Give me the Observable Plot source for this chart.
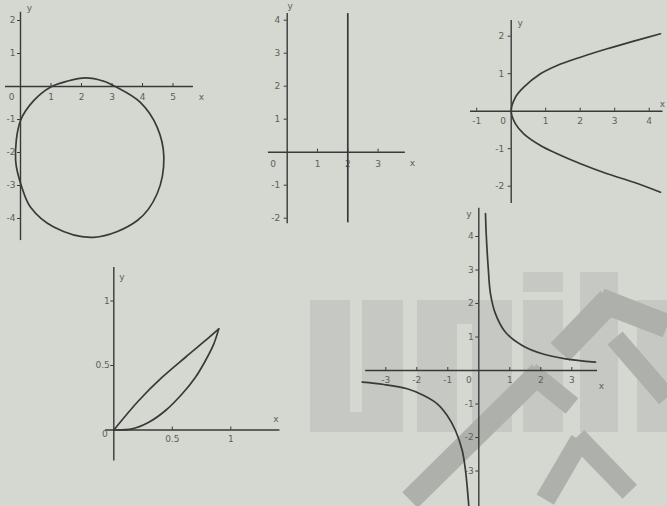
<!DOCTYPE html>
<html><head><meta charset="utf-8">
<script src="https://cdn.jsdelivr.net/npm/d3@7"></script>
<script src="https://cdn.jsdelivr.net/npm/@observablehq/plot@0.6"></script>
<style>
html,body{margin:0;padding:0;background:#d5d7d1;}
#stage{position:relative;width:667px;height:506px;overflow:hidden;background:#d5d7d1;}
#stage svg{position:absolute;overflow:visible;background:transparent;}
.wm{position:absolute;background:#c6c9c3;}
.wd{position:absolute;background:#adb0ab;transform-origin:0 50%;}
</style></head><body><div id="stage"></div>
<script>
// ---------- data ----------
// Panel 1: circle
const circleTicksX = [1, 2, 3, 4, 5];
const circleTicksY = [2, 1, -1, -2, -3, -4];
const circlePoints = [[2.13,0.26],[2.73,0.16],[3.11,0],[3.93,-0.48],[4.48,-1.23],[4.70,-2.14],[4.48,-3.25],[3.83,-4.06],[2.40,-4.57],[1.09,-4.26],[0.33,-3.66],[0.06,-3.10],[-0.16,-2.24],[0,-1.03],[0.44,-0.42],[0.98,-0.02],[1.53,0.16]];
// Panel 2: vertical line x = 2
const vlineTicksX = [1, 2, 3];
const vlineTicksY = [4, 3, 2, 1, -1, -2];
const vlineX = [2];
const vlineYRange = [-2.14, 4.2];
// Panel 3: sideways parabola
const parabTicksX = [-1, 1, 2, 3, 4];
const parabTicksY = [2, 1, -1, -2];
const parabPoints = [[4.328,-2.16],[3.554,-1.893],[2.783,-1.669],[2.009,-1.403],[1.333,-1.136],[0.849,-0.915],[0.365,-0.603],[0.125,-0.336],[0,0],[0.125,0.373],[0.365,0.64],[0.849,0.997],[1.333,1.219],[2.009,1.44],[2.783,1.664],[3.554,1.867],[4.328,2.064]];
// Panel 4: two curves between 0 and the meeting point
const lensTicksX = [0.5, 1];
const lensTicksY = [1, 0.5];
const lensUpper = [[0,0],[0.214,0.229],[0.414,0.409],[0.613,0.564],[0.784,0.694],[0.897,0.784]];
const lensLower = [[0,0],[0.157,0.009],[0.299,0.06],[0.442,0.151],[0.585,0.281],[0.698,0.409],[0.784,0.539],[0.855,0.668],[0.897,0.784]];
// Panel 5: hyperbola
const hypTicksX = [-3, -2, -1, 1, 2, 3];
const hypTicksY = [4, 3, 2, 1, -1, -2, -3];
const hypRight = [[0.216,4.68],[0.239,4.08],[0.303,3.08],[0.377,2.29],[0.539,1.69],[0.861,1.14],[1.4,0.746],[2.045,0.499],[2.797,0.349],[3.765,0.248]];
const hypLeft = [[-3.761,-0.349],[-3.065,-0.418],[-2.31,-0.546],[-1.774,-0.746],[-1.342,-0.994],[-1.019,-1.343],[-0.752,-1.791],[-0.535,-2.388],[-0.429,-2.985],[-0.355,-3.681],[-0.323,-4.06],[-0.31,-4.5]];

// ---------- drawing ----------
const stage = document.getElementById("stage");
const ink = "#383a38", textInk = "#5e605d", font = "DejaVu Sans";

// faint background watermark (not chart data)
[[310,300,40,132],[362,300,41,132],[310,412,93,20],[417,300,40,132],[417,300,95,24],[472,300,40,132],[523,272,40,20],[523,300,40,132],[580,272,38,160],[637,300,30,132]]
  .forEach(([l,t,w,h]) => { const d = document.createElement("div"); d.className = "wm";
    Object.assign(d.style, {left:l+"px", top:t+"px", width:w+"px", height:h+"px"}); stage.appendChild(d); });
[[560,352,610,300,26],[600,300,667,326,24],[615,338,667,398,20],[410,500,540,372,22],[530,372,572,406,20],[577,437,630,492,20],[580,440,545,500,20]]
  .forEach(([x1,y1,x2,y2,th]) => { const d = document.createElement("div"); d.className = "wd";
    const len = Math.hypot(x2-x1, y2-y1), ang = Math.atan2(y2-y1, x2-x1) * 180 / Math.PI;
    Object.assign(d.style, {left:x1+"px", top:(y1-th/2)+"px", width:len+"px", height:th+"px", transform:`rotate(${ang}deg)`}); stage.appendChild(d); });

function panel(c, curves) {
  const t = {fill: textInk, fontSize: 9, fontFamily: font};
  const marks = [
    Plot.ruleY([0], {x1: c.xSpan[0], x2: c.xSpan[1], stroke: ink, strokeWidth: 1.4}),
    Plot.ruleX([0], {y1: c.ySpan[0], y2: c.ySpan[1], stroke: ink, strokeWidth: 1.4}),
    Plot.ruleX(c.xTicks, {x: d => d, y1: 0, y2: 3 / c.uy, stroke: ink, strokeWidth: 1}),
    Plot.ruleY(c.yTicks, {y: d => d, x1: -3 / c.ux, x2: 0, stroke: ink, strokeWidth: 1}),
    Plot.text(c.xTicks, {x: d => d, y: 0, dy: c.xDy, text: d => String(d), ...t}),
    Plot.text(["0"], {x: 0, y: 0, dx: c.zeroDx, dy: c.xDy + (c.zeroDy || 0), text: d => d, ...t}),
    Plot.text(c.yTicks, {x: 0, y: d => d, dx: c.yDx, textAnchor: "end", text: d => String(d), ...t}),
    Plot.text(["y"], {x: 0, y: c.ySpan[1], dx: c.yLab[0], dy: c.yLab[1], text: d => d, ...t}),
    Plot.text(["x"], {x: c.xSpan[1], y: 0, dx: c.xLab[0], dy: c.xLab[1], textAnchor: c.xLabAnchor || "middle", text: d => d, ...t}),
    ...curves
  ];
  const svg = Plot.plot({
    width: c.width, height: c.height, margin: 0,
    x: {domain: [(c.left - c.ox) / c.ux, (c.left + c.width - c.ox) / c.ux], axis: null},
    y: {domain: [(c.oy - (c.top + c.height)) / c.uy, (c.oy - c.top) / c.uy], axis: null},
    style: {background: "transparent", overflow: "visible"},
    marks
  });
  svg.style.position = "absolute";
  svg.style.left = c.left + "px";
  svg.style.top = c.top + "px";
  stage.appendChild(svg);
}
const curve = (pts, kind) => Plot.line(pts, {x: d => d[0], y: d => d[1], curve: kind || "catmull-rom",
  stroke: ink, strokeWidth: 1.7, strokeLinecap: "round", strokeLinejoin: "round"});

panel({left: 0, top: 0, width: 215, height: 250, ox: 20, oy: 86, ux: 30.5, uy: 33,
  xSpan: [-0.49, 5.67], ySpan: [-4.67, 2.25], xTicks: circleTicksX, yTicks: circleTicksY,
  xDy: 11, yDx: -5, zeroDx: -9, yLab: [9, -4], xLab: [8, 11]},
  [curve(circlePoints, "catmull-rom-closed")]);

panel({left: 255, top: 0, width: 165, height: 235, ox: 286.7, oy: 151.7, ux: 30.3, uy: 33,
  xSpan: [-0.62, 3.9], ySpan: [-2.17, 4.2], xTicks: vlineTicksX, yTicks: vlineTicksY,
  xDy: 12, yDx: -7, zeroDx: -14, yLab: [3, -7], xLab: [7, 11]},
  [Plot.ruleX(vlineX, {x: d => d, y1: vlineYRange[0], y2: vlineYRange[1], stroke: ink, strokeWidth: 1.7})]);

panel({left: 460, top: 10, width: 207, height: 200, ox: 510.7, oy: 110.7, ux: 34.5, uy: 37.5,
  xSpan: [-1.18, 4.4], ySpan: [-2.46, 2.42], xTicks: parabTicksX, yTicks: parabTicksY,
  xDy: 10, yDx: -7, zeroDx: -8, yLab: [9, 3], xLab: [2, -7], xLabAnchor: "end"},
  [curve(parabPoints)]);

panel({left: 90, top: 260, width: 200, height: 210, ox: 113.3, oy: 429.5, ux: 117, uy: 129,
  xSpan: [-0.07, 1.42], ySpan: [-0.24, 1.26], xTicks: lensTicksX, yTicks: lensTicksY,
  xDy: 9, yDx: -4, zeroDx: -9, zeroDy: -5, yLab: [8, 10], xLab: [-4, -11]},
  [curve(lensUpper), curve(lensLower)]);

panel({left: 350, top: 195, width: 260, height: 311, ox: 478.3, oy: 370, ux: 31, uy: 33.5,
  xSpan: [-3.65, 3.83], ySpan: [-4.3, 4.84], xTicks: hypTicksX, yTicks: hypTicksY,
  xDy: 10, yDx: -5, zeroDx: -10, yLab: [-10, 6], xLab: [4, 16]},
  [curve(hypRight), curve(hypLeft)]);
</script>
</body></html>
